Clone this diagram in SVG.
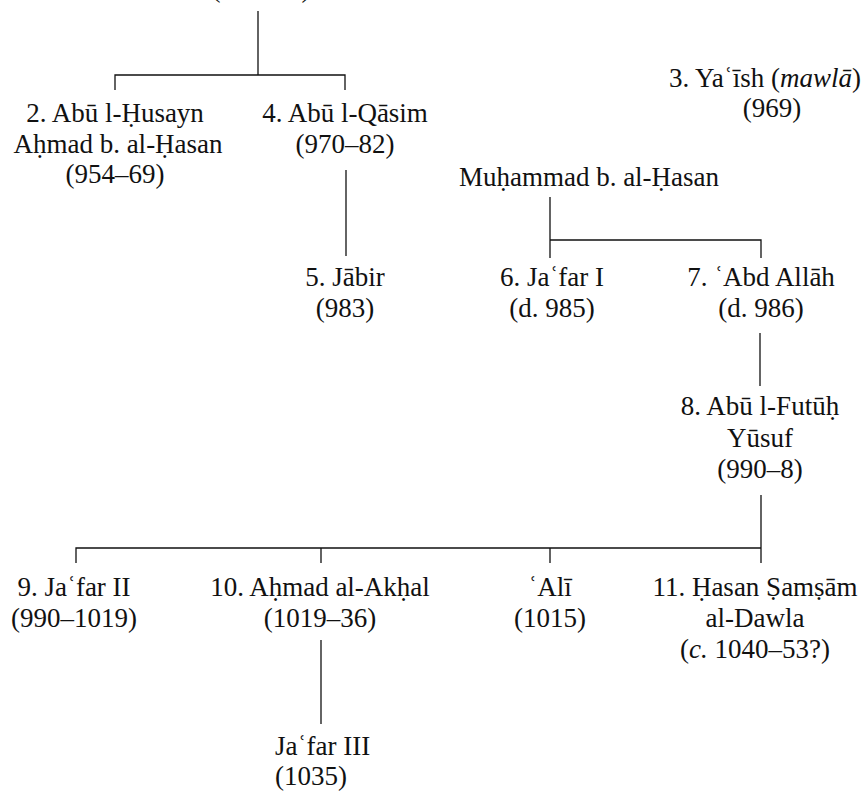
<svg xmlns="http://www.w3.org/2000/svg" width="863" height="792" viewBox="0 0 863 792">
<style>
text{font-family:"Liberation Serif","DejaVu Serif",serif;font-size:27px;fill:#111;text-anchor:middle}
.l{stroke:#111;stroke-width:1.3;fill:none}
</style>
<rect width="863" height="792" fill="#fff"/>
<g id="connectors">
<path class="l" d="M258 11V75M115 90V75H345V90"/>
<path class="l" d="M346 170V256"/>
<path class="l" d="M550 197V258M550 240H761V258"/>
<path class="l" d="M760 333V386"/>
<path class="l" d="M761 495V563M76 563V548H761M321 548V563M550 548V563"/>
<path class="l" d="M321 640V724"/>
</g>
<g id="n1"><text x="261" y="-3">(948–53)</text></g>
<g id="n2"><text x="115" y="122">2. Abū l-Ḥusayn</text><text x="118" y="153">Aḥmad b. al-Ḥasan</text><text x="115" y="183">(954–69)</text></g>
<g id="n4"><text x="345" y="122">4. Abū l-Qāsim</text><text x="345" y="153">(970–82)</text></g>
<g id="n3"><text x="765" y="87">3. Yaʿīsh (<tspan font-style="italic">mawlā</tspan>)</text><text x="772" y="117">(969)</text></g>
<g id="nm"><text x="589" y="186">Muḥammad b. al-Ḥasan</text></g>
<g id="n5"><text x="345" y="286">5. Jābir</text><text x="345" y="317">(983)</text></g>
<g id="n6"><text x="552" y="286">6. Jaʿfar I</text><text x="552" y="317">(d. 985)</text></g>
<g id="n7"><text x="761" y="286">7. ʿAbd Allāh</text><text x="761" y="317">(d. 986)</text></g>
<g id="n8"><text x="760" y="415">8. Abū l-Futūḥ</text><text x="760" y="447">Yūsuf</text><text x="760" y="478">(990–8)</text></g>
<g id="n9"><text x="74" y="596">9. Jaʿfar II</text><text x="74" y="627">(990–1019)</text></g>
<g id="n10"><text x="320" y="596">10. Aḥmad al-Akḥal</text><text x="320" y="627">(1019–36)</text></g>
<g id="nali"><text x="550" y="596">ʿAlī</text><text x="550" y="627">(1015)</text></g>
<g id="n11"><text x="755" y="596">11. Ḥasan Ṣamṣām</text><text x="755" y="627">al-Dawla</text><text x="755" y="658">(<tspan font-style="italic">c.</tspan> 1040–53?)</text></g>
<g id="nj3"><text x="275" y="755" style="text-anchor:start">Jaʿfar III</text><text x="275" y="785" style="text-anchor:start">(1035)</text></g>
</svg>
